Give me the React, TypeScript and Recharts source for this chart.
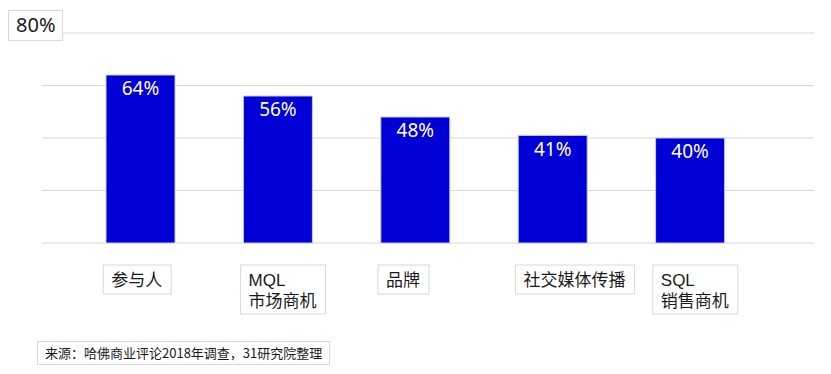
import React from 'react';
import { BarChart, Bar, XAxis, YAxis, CartesianGrid, LabelList } from 'recharts';

const categories = ['参与人', 'MQL\n市场商机', '品牌', '社交媒体传播', 'SQL\n销售商机'];
const shares = [64, 56, 48, 41, 40];
const yTicks = [0, 20, 40, 60, 80];
const topTickLabel = '80%';
const sourceNote = '来源：哈佛商业评论2018年调查，31研究院整理';

const data = categories.map((c, i) => ({ name: c, value: shares[i] }));

const CJK = "'Noto Sans CJK SC', 'Noto Sans', sans-serif";
const TICK_FONT = "'Liberation Sans', 'Noto Sans CJK SC', sans-serif";
const LATIN = "'Noto Sans', 'Noto Sans CJK SC', sans-serif";
const LABEL_FS = 17;
const BAR_SIZE = 69;
const TEXT = '#1a1a1a';
const BORDER = '#D9D9D9';

function textWidth(s: string, fs: number) {
  let w = 0;
  for (const ch of s) w += ch.charCodeAt(0) > 255 ? fs : fs * 0.62;
  return w;
}

const CategoryTick = (props: any) => {
  const { x, y, payload } = props;
  const lines = String(payload.value).split('\n');
  const left = x - BAR_SIZE / 2 - 3;
  const top = y + 22;
  const w = Math.max(...lines.map((l) => textWidth(l, LABEL_FS))) + 17;
  const lineH = 21;
  const h = lines.length === 1 ? 29 : 49;
  return (
    <g>
      <rect x={left} y={top} width={w} height={h} fill="#fff" stroke={BORDER} strokeWidth={1} />
      <text x={left + 8} y={top + 21} fontSize={LABEL_FS} fill={TEXT} fontFamily={TICK_FONT}>
        {lines.map((l, i) => (
          <tspan key={i} x={left + 8} dy={i === 0 ? 0 : lineH}>
            {l}
          </tspan>
        ))}
      </text>
    </g>
  );
};

export default function App() {
  return (
    <div style={{ position: 'absolute', left: 0, top: 0, width: 831, height: 374, background: '#fff' }}>
      <BarChart
        width={831}
        height={374}
        data={data}
        margin={{ top: 33, right: 17, left: 42, bottom: 71 }}
      >
        <CartesianGrid vertical={false} stroke={BORDER} strokeWidth={1.2} />
        <YAxis hide domain={[0, 80]} ticks={yTicks} />
        <XAxis
          dataKey="name"
          height={60}
          axisLine={false}
          tickLine={false}
          tickSize={0}
          tickMargin={0}
          interval={0}
          padding={{ left: 30, right: 55 }}
          tick={<CategoryTick />}
        />
        <Bar dataKey="value" fill="#0000D6" stroke="#C8C8E4" strokeWidth={1} barSize={BAR_SIZE} isAnimationActive={false}>
          <LabelList
            dataKey="value"
            position="insideTop"
            offset={7}
            fill="#ffffff"
            fontSize={19}
            fontFamily={LATIN}
            formatter={(v: any) => `${v}%`}
          />
        </Bar>
      </BarChart>
      <div
        style={{
          position: 'absolute',
          left: 8,
          top: 10,
          width: 55,
          height: 31,
          boxSizing: 'border-box',
          border: `1px solid ${BORDER}`,
          background: '#fff',
          fontFamily: LATIN,
          fontSize: 20,
          lineHeight: '27px',
          paddingLeft: 7,
          color: TEXT,
        }}
      >
        {topTickLabel}
      </div>
      <div
        style={{
          position: 'absolute',
          left: 37,
          top: 341,
          width: 293,
          height: 24,
          boxSizing: 'border-box',
          border: `1px solid ${BORDER}`,
          background: '#fff',
          fontFamily: CJK,
          fontSize: 13,
          lineHeight: '22px',
          paddingLeft: 7,
          color: TEXT,
          whiteSpace: 'nowrap',
        }}
      >
        {sourceNote}
      </div>
    </div>
  );
}
